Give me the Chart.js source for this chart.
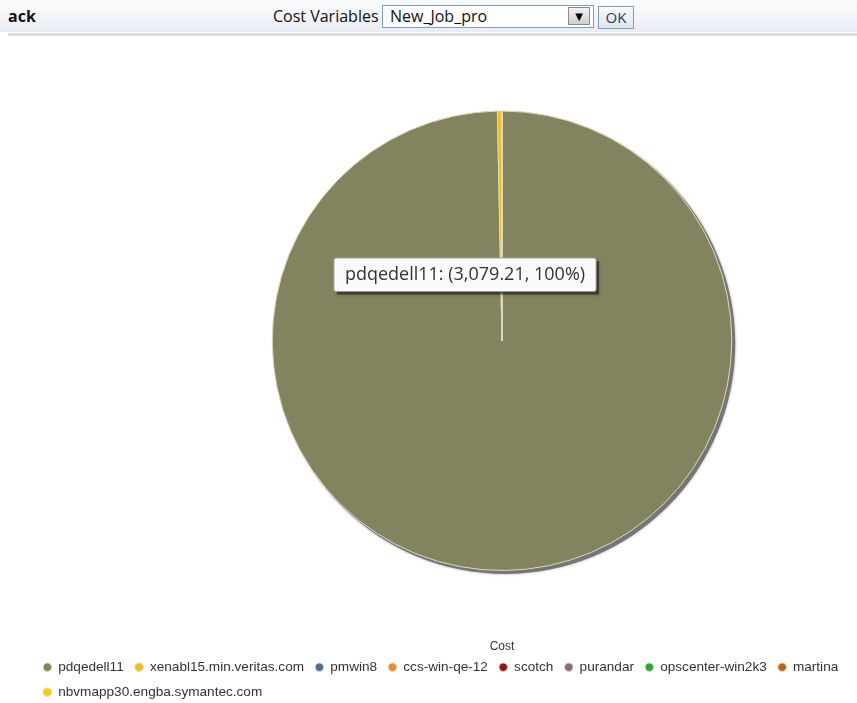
<!DOCTYPE html>
<html>
<head>
<meta charset="utf-8">
<script src="https://cdn.jsdelivr.net/npm/chart.js@4/dist/chart.umd.min.js"></script>
<style>
  html, body { margin: 0; padding: 0; width: 857px; height: 703px; overflow: hidden; background: #fff; }
  #hdr { position: absolute; left: 0; top: 0; width: 857px; height: 32px;
         background: linear-gradient(#fbfcfd, #e9edf3); font-family: "Open Sans", sans-serif; }
  #hdrline { position: absolute; left: 8px; top: 33px; width: 849px; height: 3px; background: #dcdcdc; }
  #back { position: absolute; left: 8px; top: 5px; font-weight: bold; font-size: 16px; color: #111; }
  #cv { position: absolute; left: 273px; top: 5px; font-size: 16px; color: #111; }
  #sel { position: absolute; left: 382px; top: 5px; width: 210px; height: 21px; border: 1px solid #7f9db9; background: #fff; }
  #seltext { position: absolute; left: 7px; top: -1px; font-size: 16px; color: #111; }
  #arrow { position: absolute; left: 185px; top: 1px; width: 22px; height: 18px; background: linear-gradient(#f2f2f2, #cfcfcf); border: 1px solid #8a8a8a; box-sizing: border-box; font-size: 10px; text-align: center; line-height: 17px; color: #000; font-family: "DejaVu Sans", sans-serif; }
  #ok { position: absolute; left: 598px; top: 6px; width: 36px; height: 23px; border: 1px solid #7f9db9; background: linear-gradient(#f7f9fb, #dfe6ee); box-sizing: border-box; font-size: 15px; text-align: center; line-height: 21px; color: #1f3c5c; }
  #wrap { position: absolute; left: 0; top: 37px; width: 857px; height: 672px; }
</style>
</head>
<body>
<div id="hdr">
  <div id="back">ack</div>
  <div id="cv">Cost Variables</div>
  <div id="sel"><div id="seltext">New_Job_pro</div><div id="arrow">&#9660;</div></div>
  <div id="ok">OK</div>
</div>
<div id="hdrline"></div>
<div id="wrap"><canvas id="c" width="857" height="672"></canvas></div>
<script>
// ---- data ----
const hosts = ['pdqedell11', 'xenabl15.min.veritas.com', 'pmwin8', 'ccs-win-qe-12', 'scotch',
               'purandar', 'opscenter-win2k3', 'martina', 'nbvmapp30.engba.symantec.com'];
const costs = [3079.21, 8.5, 0.2, 0.2, 0.2, 0.2, 0.2, 0.2, 0.2];
const sliceColors = ['#83845f', '#f0c010', '#4f6f94', '#f08a24', '#a00c1c', '#8a6a86', '#2ea43a', '#c0620e', '#ffcc00'];
const seriesTitle = 'Cost';

// spacer box on the left so the pie sits right of page centre (as in the reference)
const leftSpacer = {
  id: 'leftSpacer',
  beforeInit(chart) {
    Chart.layouts.addBox(chart, {
      position: 'left', weight: 0, fullSize: false,
      options: { stackWeight: 1 },
      width: 0, height: 0, left: 0, top: 0, right: 0, bottom: 0,
      update(maxW, maxH) { this.width = 115; this.height = maxH; },
      isHorizontal() { return false; },
      getPadding() { return { left: 0, right: 0, top: 0, bottom: 0 }; },
      draw() {}
    });
  }
};

// drop shadow under the pie
const pieShadow = {
  id: 'pieShadow',
  beforeDatasetsDraw(chart) {
    const arc = chart.getDatasetMeta(0).data[0];
    if (!arc) return;
    const ctx = chart.ctx;
    ctx.save();
    ctx.beginPath();
    ctx.arc(arc.x + 3, arc.y + 3, arc.outerRadius + 0.5, 0, Math.PI * 2);
    ctx.fillStyle = 'rgba(110,110,110,0.9)';
    ctx.shadowColor = 'rgba(0,0,0,0.35)';
    ctx.shadowBlur = 3;
    ctx.fill();
    ctx.restore();
  }
};

// drop shadow under the tooltip box
const tipShadow = {
  id: 'tipShadow',
  beforeTooltipDraw(chart, args) {
    const t = args.tooltip;
    const ctx = chart.ctx;
    ctx.save();
    ctx.fillStyle = 'rgba(0,0,0,0.45)';
    ctx.shadowColor = 'rgba(0,0,0,0.5)';
    ctx.shadowBlur = 4;
    ctx.fillRect(t.x + 3, t.y + 3, t.width, t.height);
    ctx.restore();
  }
};

Chart.Tooltip.positioners.fixedNearPie = function(elements) {
  if (!elements.length) return false;
  const el = elements[0].element;
  return { x: el.x - 37, y: el.y - 66 };
};

const fmt = v => v.toLocaleString('en-US', { minimumFractionDigits: 2, maximumFractionDigits: 2 });

const chart = new Chart(document.getElementById('c'), {
  type: 'pie',
  data: {
    labels: hosts,
    datasets: [{
      label: seriesTitle,
      data: costs,
      backgroundColor: sliceColors,
      borderColor: '#ddd9bc',
      borderWidth: 1
    }]
  },
  options: {
    responsive: false,
    animation: false,
    events: [],
    layout: { padding: { top: 73.5, left: 32, right: 0, bottom: 0 } },
    plugins: {
      title: {
        display: true, text: seriesTitle, position: 'bottom', fullSize: false, weight: 500,
        color: '#333', font: { family: 'Liberation Sans', size: 12, weight: 'normal' },
        padding: { top: 68.3, bottom: -4.7 }
      },
      legend: {
        position: 'bottom', align: 'start',
        labels: {
          usePointStyle: true, pointStyle: 'circle', boxWidth: 8, boxHeight: 6,
          padding: 11.4, color: '#333',
          font: { family: 'Liberation Sans', size: 13.6 }
        }
      },
      tooltip: {
        enabled: true,
        position: 'fixedNearPie', xAlign: 'center', yAlign: 'center',
        caretSize: 0, caretPadding: 0, cornerRadius: 2,
        backgroundColor: '#fafafa', borderColor: '#9a9a9a', borderWidth: 1,
        bodyColor: '#333', displayColors: false,
        bodyFont: { family: 'Open Sans', size: 18 },
        padding: { left: 11, right: 11, top: 6, bottom: 6 },
        callbacks: {
          title: () => '',
          label: (c) => {
            const total = c.dataset.data.reduce((a, b) => a + b, 0);
            const pct = Math.round(c.parsed / total * 100);
            return `${c.label}: (${fmt(c.parsed)}, ${pct}%)`;
          }
        }
      }
    }
  },
  plugins: [leftSpacer, pieShadow, tipShadow]
});

chart.tooltip.setActiveElements([{ datasetIndex: 0, index: 0 }], { x: 0, y: 0 });
chart.update();
</script>
</body>
</html>
